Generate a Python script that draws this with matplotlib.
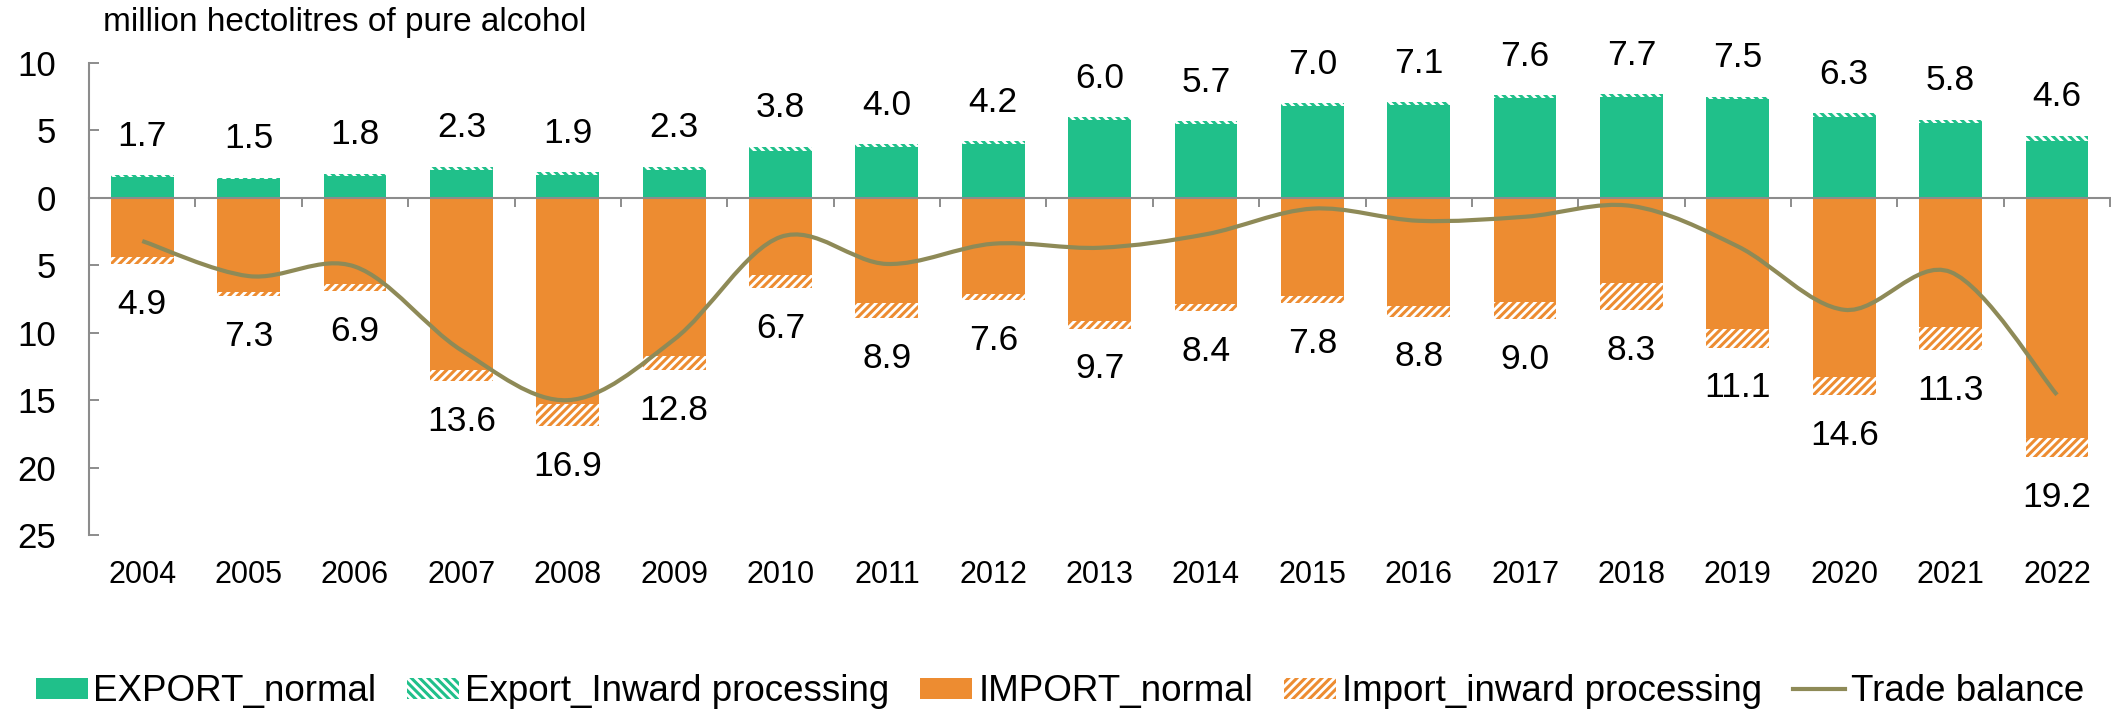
import numpy as np
import matplotlib.pyplot as plt
from matplotlib.path import Path
from matplotlib.patches import PathPatch
from matplotlib.lines import Line2D
from matplotlib.ticker import FuncFormatter

plt.rcParams['font.family'] = ['Liberation Sans', 'DejaVu Sans']
plt.rcParams['hatch.linewidth'] = 2.2

years = ['2004', '2005', '2006', '2007', '2008', '2009', '2010', '2011', '2012', '2013',
         '2014', '2015', '2016', '2017', '2018', '2019', '2020', '2021', '2022']

export_normal = [1.55, 1.4, 1.6, 2.1, 1.7, 2.05, 3.5, 3.75, 4.0, 5.8,
                 5.45, 6.8, 6.9, 7.4, 7.5, 7.3, 6.0, 5.55, 4.2]
export_inward = [0.15, 0.1, 0.2, 0.2, 0.2, 0.25, 0.3, 0.25, 0.2, 0.2,
                 0.25, 0.2, 0.2, 0.2, 0.2, 0.2, 0.3, 0.25, 0.4]
import_normal = [4.4, 7.0, 6.4, 12.8, 15.3, 11.7, 5.7, 7.8, 7.1, 9.1,
                 7.9, 7.25, 8.0, 7.7, 6.3, 9.7, 13.3, 9.6, 17.8]
import_inward = [0.5, 0.3, 0.5, 0.8, 1.6, 1.1, 1.0, 1.1, 0.5, 0.6,
                 0.5, 0.55, 0.8, 1.3, 2.0, 1.4, 1.3, 1.7, 1.4]
export_labels = [1.7, 1.5, 1.8, 2.3, 1.9, 2.3, 3.8, 4.0, 4.2, 6.0,
                 5.7, 7.0, 7.1, 7.6, 7.7, 7.5, 6.3, 5.8, 4.6]
import_labels = [4.9, 7.3, 6.9, 13.6, 16.9, 12.8, 6.7, 8.9, 7.6, 9.7,
                 8.4, 7.8, 8.8, 9.0, 8.3, 11.1, 14.6, 11.3, 19.2]
trade_balance = [-3.2, -5.8, -5.1, -11.3, -15.0, -10.5, -2.9, -4.9, -3.4, -3.7,
                 -2.7, -0.8, -1.7, -1.4, -0.6, -3.6, -8.3, -5.5, -14.6]

green = '#20C08A'
orange = '#ED8C31'
olive = '#8E8A57'
grey = '#8C8C8C'
hatch_exp = '\\\\\\\\'
hatch_imp = '////'

x = np.arange(len(years))
w = 0.59
en = np.array(export_normal)
ei = np.array(export_inward)
im = np.array(import_normal)
ii = np.array(import_inward)

fig = plt.figure(figsize=(21.11, 7.11), dpi=100)
ax = fig.add_axes([0.0422, 0.2475, 0.9574, 0.6639])

ax.bar(x, en, w, color=green, linewidth=0)
ax.bar(x, ei, w, bottom=en, facecolor='white', edgecolor=green, hatch=hatch_exp, linewidth=0)
ax.bar(x, -im, w, color=orange, linewidth=0)
ax.bar(x, -ii, w, bottom=-im, facecolor='white', edgecolor=orange, hatch=hatch_imp, linewidth=0)

# smoothed trade balance line (bezier segments like a spreadsheet "smoothed line")
pts = np.column_stack([x, trade_balance]).astype(float)
ext = np.vstack([pts[0], pts, pts[-1]])
verts = [tuple(pts[0])]
codes = [Path.MOVETO]
for i in range(len(pts) - 1):
    p0, p1, p2, p3 = ext[i], ext[i + 1], ext[i + 2], ext[i + 3]
    c1 = p1 + (p2 - p0) / 6
    c2 = p2 - (p3 - p1) / 6
    verts += [tuple(c1), tuple(c2), tuple(p2)]
    codes += [Path.CURVE4] * 3
ax.add_patch(PathPatch(Path(verts, codes), fill=False, edgecolor=olive, lw=3, zorder=4,
                       capstyle='butt'))

for i in x:
    ax.annotate(f'{export_labels[i]:.1f}', (i, en[i] + ei[i]), xytext=(0, 28),
                textcoords='offset points', ha='center', va='center', fontsize=25.5)
    ax.annotate(f'{import_labels[i]:.1f}', (i, -im[i] - ii[i]), xytext=(0, -29),
                textcoords='offset points', ha='center', va='center', fontsize=25.5)
    ax.text(i, -0.085, years[i], transform=ax.get_xaxis_transform(),
            ha='center', va='center', fontsize=22)

ax.set_xlim(-0.5, 18.5)
ax.set_ylim(-25, 10)
ax.set_yticks(np.arange(-25, 11, 5))
ax.yaxis.set_major_formatter(FuncFormatter(lambda v, p: f'{abs(v):.0f}'))
ax.set_xticks(np.arange(-0.5, 19, 1))
ax.set_xticklabels([])

for s in ['top', 'right']:
    ax.spines[s].set_visible(False)
ax.spines['bottom'].set_position(('data', 0))
for s in ['bottom', 'left']:
    ax.spines[s].set_color(grey)
    ax.spines[s].set_linewidth(1.5)
ax.spines['bottom'].set_zorder(3)
ax.tick_params(axis='y', direction='in', length=7, width=1.4, color=grey,
               labelsize=25, pad=24)
ax.tick_params(axis='x', direction='out', length=6.5, width=1.4, color=grey)

fig.text(0.049, 0.968, 'million hectolitres of pure alcohol', fontsize=24,
         ha='left', va='center')

handles = [
    plt.Rectangle((0, 0), 1, 1, color=green, lw=0),
    plt.Rectangle((0, 0), 1, 1, facecolor='white', edgecolor=green, hatch=hatch_exp, lw=0),
    plt.Rectangle((0, 0), 1, 1, color=orange, lw=0),
    plt.Rectangle((0, 0), 1, 1, facecolor='white', edgecolor=orange, hatch=hatch_imp, lw=0),
    Line2D([], [], color=olive, lw=3),
]
names = ['EXPORT_normal', 'Export_Inward processing', 'IMPORT_normal',
         'Import_inward processing', 'Trade balance']
fig.legend(handles, names, loc='center', bbox_to_anchor=(0.502, 0.027), ncol=5,
           frameon=False, fontsize=26.5, handlelength=1.41, handleheight=0.52,
           handletextpad=0.16, columnspacing=0.84, borderaxespad=0, borderpad=0)

fig.savefig('out.png', dpi=100)
